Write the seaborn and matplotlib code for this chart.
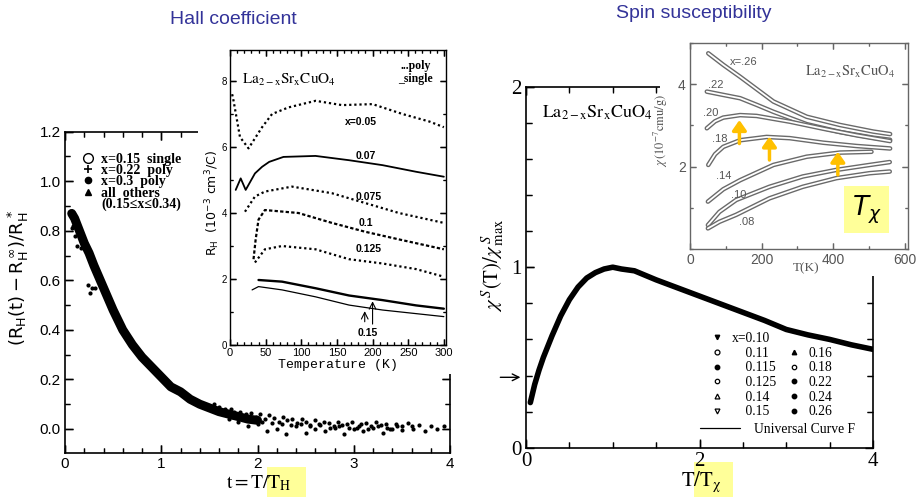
import matplotlib
matplotlib.use("Agg")
import matplotlib.pyplot as plt
import seaborn as sns
from matplotlib.lines import Line2D
from matplotlib.patches import Rectangle
from matplotlib.ticker import MultipleLocator, FixedLocator

# ---------------- data: Hall coefficient (main, left) ----------------
hall_t = [0.07, 0.10, 0.15, 0.20, 0.25, 0.30, 0.40, 0.50, 0.60, 0.70, 0.80, 0.90,
          1.00, 1.10, 1.20, 1.30, 1.40, 1.50, 1.60, 1.70, 1.80, 1.90, 2.00]
hall_mid = [0.87, 0.85, 0.80, 0.75, 0.71, 0.66, 0.57, 0.48, 0.40, 0.34, 0.29, 0.25,
            0.21, 0.17, 0.15, 0.12, 0.10, 0.085, 0.07, 0.06, 0.05, 0.04, 0.035]
hall_out_t = [0.07, 0.08, 0.10, 0.12, 0.17, 0.24, 0.26, 0.28, 0.31]
hall_out_y = [0.81, 0.82, 0.78, 0.74, 0.73, 0.58, 0.55, 0.57, 0.57]
tail_t = [1.55, 1.60, 1.66, 1.72, 1.76, 1.82, 1.88, 1.93, 1.98, 2.03, 2.08, 2.12, 2.17, 2.22,
          2.27, 2.31, 2.36, 2.41, 2.46, 2.50, 2.55, 2.60, 2.64, 2.69, 2.74, 2.79, 2.84, 2.88,
          2.93, 2.98, 3.03, 3.08, 3.13, 3.18, 3.23, 3.28, 3.33, 3.38, 3.44, 3.50, 3.56, 3.62,
          3.68, 3.74, 3.80, 3.87, 3.94]
tail_y = [0.10, 0.09, 0.08, 0.08, 0.07, 0.07, 0.06, 0.065, 0.05, 0.06, 0.04, 0.055, 0.045, 0.03,
          0.05, 0.035, 0.04, 0.025, 0.04, 0.03, 0.015, 0.035, 0.02, 0.03, 0.025, 0.01, 0.03, 0.015,
          0.02, 0.03, 0.005, 0.02, 0.025, 0.01, 0.03, 0.015, 0.02, 0.0, 0.02, 0.01, 0.025, 0.0,
          0.015, -0.01, 0.01, 0.0, 0.01]
tail2_t = [1.70, 1.80, 1.90, 2.00, 2.10, 2.20, 2.30, 2.40, 2.50, 2.60, 2.70, 2.80, 2.90, 3.00,
           3.10, 3.20, 3.30, 3.40, 3.50, 3.60]
tail2_y = [0.04, 0.03, 0.01, 0.02, -0.01, 0.00, -0.02, 0.01, -0.015, 0.0, -0.01, 0.005, -0.02,
           0.0, -0.01, 0.005, -0.015, 0.0, -0.005, 0.01]
tail3_t = [1.75, 1.85, 1.95, 2.05, 2.15, 2.25, 2.35, 2.45, 2.55, 2.65, 2.75, 2.85, 2.95, 3.05,
           3.15, 3.25, 3.35, 3.45]
tail3_y = [0.05, 0.045, 0.035, 0.03, 0.025, 0.02, 0.015, 0.02, 0.01, 0.015, 0.005, 0.01, 0.005,
           0.01, 0.0, 0.01, 0.005, 0.01]

# ---------------- data: R_H vs temperature (inset, left) ----------------
rh05_T = [3, 5, 14, 26, 45, 59, 82, 120, 157, 200, 242, 280, 300]
rh05_R = [7.6, 7.4, 6.3, 5.96, 6.6, 7.0, 7.2, 7.4, 7.27, 7.3, 7.0, 6.77, 6.6]
rh07_T = [8, 15, 22, 35, 45, 55, 75, 120, 167, 214, 261, 300]
rh07_R = [4.7, 5.05, 4.7, 5.2, 5.4, 5.55, 5.7, 5.73, 5.6, 5.45, 5.25, 5.1]
rh075_T = [21, 35, 49, 87, 143, 190, 237, 300]
rh075_R = [4.04, 4.5, 4.65, 4.8, 4.6, 4.3, 4.0, 3.7]
rh10_T = [33, 36, 40, 49, 96, 143, 190, 237, 300]
rh10_R = [2.6, 3.2, 3.8, 4.09, 4.0, 3.7, 3.43, 3.2, 2.9]
rh125_T = [35, 49, 73, 120, 167, 214, 261, 300]
rh125_R = [2.5, 2.9, 3.0, 2.9, 2.6, 2.47, 2.3, 2.07]
rh15p_T = [40, 73, 120, 167, 214, 261, 300]
rh15p_R = [1.97, 1.92, 1.72, 1.5, 1.36, 1.2, 1.1]
rh15s_T = [31, 40, 73, 120, 167, 214, 300]
rh15s_R = [1.67, 1.77, 1.67, 1.46, 1.21, 1.06, 0.86]
rh_labels = ["x=0.05", "0.07", "0.075", "0.1", "0.125", "0.15"]
rh_label_T = [184, 191, 195, 190, 195, 193]
rh_label_R = [6.77, 5.73, 4.5, 3.69, 2.9, 0.35]

# ---------------- data: spin susceptibility (main, right) ----------------
chi_x = [0.05, 0.10, 0.15, 0.20, 0.30, 0.40, 0.50, 0.60, 0.70, 0.80, 0.90, 1.00, 1.10,
         1.25, 1.50, 1.75, 2.00, 2.25, 2.50, 2.75, 3.00, 3.25, 3.50, 3.75, 4.00]
chi_y = [0.25, 0.35, 0.43, 0.50, 0.62, 0.73, 0.82, 0.89, 0.94, 0.97, 0.99, 1.00, 0.99,
         0.98, 0.93, 0.885, 0.84, 0.795, 0.75, 0.705, 0.655, 0.625, 0.60, 0.57, 0.545]
chi_leg_col1 = ["x=0.10", "0.11", "0.115", "0.125", "0.14", "0.15"]
chi_leg_col2 = ["", "0.16", "0.18", "0.22", "0.24", "0.26"]

# ---------------- data: chi vs T (inset, right) ----------------
s26_T = [51, 93, 140, 233, 326, 419, 512, 559]
s26_c = [4.75, 4.47, 4.18, 3.58, 3.21, 3.01, 2.85, 2.79]
s22_T = [47, 93, 140, 186, 233, 326, 419, 512, 559]
s22_c = [3.82, 3.74, 3.66, 3.50, 3.33, 3.03, 2.84, 2.70, 2.65]
s20_T = [47, 70, 93, 140, 186, 279, 372, 465, 559]
s20_c = [2.93, 3.10, 3.19, 3.25, 3.23, 3.09, 2.92, 2.76, 2.62]
s18_T = [51, 70, 93, 140, 214, 279, 372, 465, 559]
s18_c = [2.04, 2.30, 2.48, 2.64, 2.72, 2.69, 2.58, 2.50, 2.44]
s14_T = [50, 93, 140, 233, 326, 419, 507]
s14_c = [1.15, 1.45, 1.67, 2.04, 2.24, 2.34, 2.36]
s10_T = [50, 82, 129, 222, 315, 409, 502, 558]
s10_c = [0.58, 0.90, 1.19, 1.51, 1.76, 1.92, 2.04, 2.11]
s08_T = [50, 82, 129, 222, 315, 409, 502, 558]
s08_c = [0.50, 0.66, 0.83, 1.23, 1.51, 1.72, 1.84, 1.88]
s_labels = ["x=.26", ".22", ".20", ".18", ".14", ".10", ".08"]
s_label_T = [150, 72, 58, 84, 93, 135, 157]
s_label_c = [4.55, 3.98, 3.29, 2.68, 1.76, 1.31, 0.66]
tchi_T = [138, 222, 413]
tchi_lo = [2.56, 2.16, 1.80]
tchi_hi = [3.13, 2.73, 2.36]

# ---------------- style ----------------
sns.set_theme(style="ticks", rc={"axes.edgecolor": "black", "text.color": "black",
                                 "axes.labelcolor": "black", "xtick.color": "black",
                                 "ytick.color": "black"})
plt.rcParams.update({
    "font.family": ["Liberation Sans", "DejaVu Sans"],
    "mathtext.fontset": "stix",
    "xtick.direction": "in", "ytick.direction": "in",
    "xtick.top": True, "ytick.right": True, "xtick.bottom": True, "ytick.left": True,
    "xtick.major.size": 6, "ytick.major.size": 6,
    "xtick.minor.size": 3.5, "ytick.minor.size": 3.5,
    "xtick.major.width": 1.0, "ytick.major.width": 1.0,
    "xtick.minor.width": 0.9, "ytick.minor.width": 0.9,
    "axes.linewidth": 1.2,
})
SERIF = ["Liberation Serif", "DejaVu Serif"]
MONO = ["Liberation Mono", "DejaVu Sans Mono"]
SANS = ["Liberation Sans", "DejaVu Sans"]
TITLE_C = "#333399"

W, H = 917, 497
fig = plt.figure(figsize=(W / 100, H / 100), dpi=100)
fig.patch.set_facecolor("white")


def box(x0, y0, x1, y1):
    return [x0 / W, 1 - y1 / H, (x1 - x0) / W, (y1 - y0) / H]


def fig_rect(x0, y0, x1, y1, color, z):
    fig.add_artist(Rectangle((x0 / W, 1 - y1 / H), (x1 - x0) / W, (y1 - y0) / H,
                             transform=fig.transFigure, facecolor=color,
                             edgecolor="none", zorder=z))


def label_font(ax, family, size, color="black"):
    plt.setp(ax.get_xticklabels() + ax.get_yticklabels(), family=family, fontsize=size,
             color=color)


def frame_ticks(ax, lmaj, lmin, color="black", wmaj=1.0, wmin=0.9):
    """Inward tick marks on all four sides, placed at the axis locator positions."""
    pos = ax.get_position()
    wpx, hpx = pos.width * W, pos.height * H
    x0, x1 = sorted(ax.get_xlim())
    y0, y1 = sorted(ax.get_ylim())
    for locs, L, lw in [(ax.xaxis.get_majorticklocs(), lmaj, wmaj),
                        (ax.xaxis.get_minorticklocs(), lmin, wmin)]:
        locs = [v for v in locs if x0 - 1e-9 <= v <= x1 + 1e-9]
        f = L * 100 / 72 / hpx
        tr = ax.get_xaxis_transform()
        ax.vlines(locs, 0, f, transform=tr, colors=color, lw=lw, zorder=2.6)
        ax.vlines(locs, 1 - f, 1, transform=tr, colors=color, lw=lw, zorder=2.6)
    for locs, L, lw in [(ax.yaxis.get_majorticklocs(), lmaj, wmaj),
                        (ax.yaxis.get_minorticklocs(), lmin, wmin)]:
        locs = [v for v in locs if y0 - 1e-9 <= v <= y1 + 1e-9]
        f = L * 100 / 72 / wpx
        tr = ax.get_yaxis_transform()
        ax.hlines(locs, 0, f, transform=tr, colors=color, lw=lw, zorder=2.6)
        ax.hlines(locs, 1 - f, 1, transform=tr, colors=color, lw=lw, zorder=2.6)
    ax.set_xlim(x0, x1)
    ax.set_ylim(y0, y1)


# ================= LEFT MAIN =================
axL = fig.add_axes(box(65, 131.7, 450, 453))
sns.lineplot(x=hall_t, y=hall_mid, ax=axL, color="black", lw=6.5, solid_capstyle="round")
for tx, ty in [(hall_out_t, hall_out_y), (tail_t, tail_y), (tail2_t, tail2_y), (tail3_t, tail3_y)]:
    sns.scatterplot(x=tx, y=ty, ax=axL, color="black", s=9, linewidth=0)
axL.set_xlim(0, 4)
axL.set_ylim(-0.097, 1.2)
axL.xaxis.set_major_locator(MultipleLocator(1))
axL.xaxis.set_minor_locator(MultipleLocator(0.2))
axL.yaxis.set_major_locator(MultipleLocator(0.2))
axL.yaxis.set_minor_locator(MultipleLocator(0.1))
axL.tick_params(which="major", pad=3)
label_font(axL, SANS, 11)
frame_ticks(axL, 6, 3.5)
hl_handles = [Line2D([], [], ls="none", marker="o", mfc="white", mec="black", ms=7, mew=1),
              Line2D([], [], ls="none", marker="+", color="black", ms=6, mew=1.2),
              Line2D([], [], ls="none", marker="o", color="black", ms=4.5),
              Line2D([], [], ls="none", marker="^", color="black", ms=5),
              Line2D([], [], ls="none")]
hl_labels = ["x=0.15  single", "x=0.22  poly", "x=0.3  poly", "all  others", "(0.15\u2264x\u22640.34)"]
axL.legend(hl_handles, hl_labels, loc="upper left", bbox_to_anchor=(0.045, 0.935), frameon=False,
           prop={"family": SERIF, "weight": "bold", "size": 10}, handlelength=0.8,
           handletextpad=0.55, labelspacing=-0.12, borderpad=0, borderaxespad=0)
axL.set_xlabel(r"$\mathrm{t=T/T_H}$", fontsize=14)
axL.xaxis.set_label_coords(0.504, -0.062)
axL.set_ylabel(r"$\mathrm{(R_H(t)-R_H^{\,\infty})/R_H^{\,*}}$", fontsize=13,
               math_fontfamily="dejavusans")
axL.yaxis.set_label_coords(-0.088, 0.545)
fig_rect(266.7, 466.7, 305.7, 497, "#FFFF99", -1)

# white background for left inset
fig_rect(198, 42, 460, 374, "white", 2)

# ================= LEFT INSET =================
axLi = fig.add_axes(box(230, 50, 446, 345))
axLi.set_zorder(3)
axLi.set_facecolor("white")
dotted = (0, (1, 1.3))
sns.lineplot(x=rh05_T, y=rh05_R, ax=axLi, color="black", lw=1.6, ls=dotted)
sns.lineplot(x=rh07_T, y=rh07_R, ax=axLi, color="black", lw=1.3)
sns.lineplot(x=rh075_T, y=rh075_R, ax=axLi, color="black", lw=1.6, ls=dotted)
sns.lineplot(x=rh10_T, y=rh10_R, ax=axLi, color="black", lw=1.6, ls=(0, (1.5, 1)))
sns.lineplot(x=rh125_T, y=rh125_R, ax=axLi, color="black", lw=1.6, ls=dotted)
sns.lineplot(x=rh15p_T, y=rh15p_R, ax=axLi, color="black", lw=1.7)
sns.lineplot(x=rh15s_T, y=rh15s_R, ax=axLi, color="black", lw=0.9)
axLi.set_xlim(0, 303)
axLi.set_ylim(0, 8.94)
axLi.xaxis.set_major_locator(MultipleLocator(50))
axLi.xaxis.set_minor_locator(MultipleLocator(10))
axLi.yaxis.set_major_locator(MultipleLocator(2))
axLi.yaxis.set_minor_locator(MultipleLocator(1))
axLi.tick_params(which="major", length=4, pad=2)
axLi.tick_params(which="minor", length=2)
for s in axLi.spines.values():
    s.set_linewidth(1.0)
plt.setp(axLi.get_xticklabels(), family=SANS, fontsize=8)
plt.setp(axLi.get_yticklabels(), family=SANS, fontsize=7)
frame_ticks(axLi, 4, 2, wmaj=0.9, wmin=0.8)
for lab, tx, ty in zip(rh_labels, rh_label_T, rh_label_R):
    axLi.text(tx, ty, lab, ha="center", va="center", fontsize=7.5, fontweight="bold", family=SANS)
axLi.annotate("", xy=(189, 1.11), xytext=(189, 0.62),
              arrowprops=dict(arrowstyle="->", lw=0.8, color="black"))
axLi.annotate("", xy=(200, 1.41), xytext=(200, 0.55),
              arrowprops=dict(arrowstyle="->", lw=0.8, color="black"))
axLi.text(0.273, 0.898, r"$\mathrm{La_{2-x}Sr_xCuO_4}$", transform=axLi.transAxes,
          ha="center", va="center", fontsize=11)
axLi.text(0.86, 0.946, "...poly", transform=axLi.transAxes, ha="center", va="center",
          fontsize=8.5, fontweight="bold", family=SERIF)
axLi.text(0.86, 0.902, "_single", transform=axLi.transAxes, ha="center", va="center",
          fontsize=8.5, fontweight="bold", family=SERIF)
axLi.set_xlabel("Temperature (K)", fontsize=9.5, family=MONO, labelpad=1)
axLi.set_ylabel(r"$\mathrm{R_H\ \ (10^{-3}\ cm^3/C)}$", fontsize=9, labelpad=1,
                math_fontfamily="dejavusans")
axLi.yaxis.set_label_coords(-0.035, 0.48)

# ================= RIGHT MAIN =================
axR = fig.add_axes(box(526, 86.7, 873, 447.7))
sns.lineplot(x=chi_x, y=chi_y, ax=axR, color="black", lw=4.0, solid_capstyle="round")
axR.set_xlim(0, 4)
axR.set_ylim(0, 2)
axR.xaxis.set_major_locator(MultipleLocator(2))
axR.xaxis.set_minor_locator(MultipleLocator(0.5))
axR.yaxis.set_major_locator(MultipleLocator(1))
axR.yaxis.set_minor_locator(MultipleLocator(0.2))
axR.tick_params(which="major", length=6, pad=3)
axR.tick_params(which="minor", length=4)
label_font(axR, SERIF, 15)
frame_ticks(axR, 6, 4)
mk = dict(ls="none", color="black", ms=3.2)
col1_h = [Line2D([], [], marker="v", **mk),
          Line2D([], [], marker="o", mfc="white", mec="black", mew=0.9, ls="none", ms=3.5),
          Line2D([], [], marker="o", **mk),
          Line2D([], [], marker="o", mfc="white", mec="black", mew=0.9, ls="none", ms=3.2),
          Line2D([], [], marker="^", mfc="white", mec="black", mew=0.9, ls="none", ms=3.5),
          Line2D([], [], marker="v", mfc="white", mec="black", mew=0.9, ls="none", ms=3.5)]
col2_h = [Line2D([], [], ls="none"),
          Line2D([], [], marker="^", **mk),
          Line2D([], [], marker="o", mfc="white", mec="black", mew=0.9, ls="none", ms=3.2),
          Line2D([], [], marker="o", **mk),
          Line2D([], [], marker="o", **mk),
          Line2D([], [], marker="o", **mk)]
col1_l = [chi_leg_col1[0]] + ["    " + s for s in chi_leg_col1[1:]]
leg1 = axR.legend(col1_h + col2_h, col1_l + chi_leg_col2, ncol=2, loc="upper left",
                  bbox_to_anchor=(0.535, 0.32), frameon=False,
                  prop={"family": SERIF, "size": 9.8}, handlelength=0.8, handletextpad=0.7,
                  labelspacing=0.12, columnspacing=0.9, borderpad=0, borderaxespad=0)
axR.add_artist(leg1)
axR.legend([Line2D([], [], color="black", lw=0.9)], ["Universal Curve F"], loc="upper left",
           bbox_to_anchor=(0.50, 0.068), frameon=False, prop={"family": SERIF, "size": 9.8},
           handlelength=3.0, handletextpad=1.0, borderpad=0, borderaxespad=0)
axR.text(0.205, 0.927, r"$\mathrm{La_{2-x}Sr_xCuO_4}$", transform=axR.transAxes,
         ha="center", va="center", fontsize=13)
axR.annotate("", xy=(-0.008, 0.39), xycoords=("axes fraction", "data"),
             xytext=(-0.082, 0.39), textcoords=("axes fraction", "data"),
             arrowprops=dict(arrowstyle="->", lw=1.0, color="black"), annotation_clip=False)
axR.set_xlabel(r"$\mathrm{T/T_{\chi}}$", fontsize=15)
axR.xaxis.set_label_coords(0.504, -0.06)
axR.set_ylabel(r"$\chi^{\,S}\mathrm{(T)}/\chi^{\,S}_{\,\mathrm{max}}$", fontsize=15)
axR.yaxis.set_label_coords(-0.055, 0.506)
fig_rect(694, 462, 733, 497, "#FFFF99", -1)

# white background for right inset
fig_rect(660, 28, 917, 276, "white", 2)

# ================= RIGHT INSET =================
axRi = fig.add_axes(box(690, 43, 908, 249))
axRi.set_zorder(3)
axRi.set_facecolor("white")
for sT, sc in [(s26_T, s26_c), (s22_T, s22_c), (s20_T, s20_c), (s18_T, s18_c),
               (s14_T, s14_c), (s10_T, s10_c), (s08_T, s08_c)]:
    sns.lineplot(x=sT, y=sc, ax=axRi, color="#6a6a6a", lw=3.3, solid_capstyle="round")
    sns.lineplot(x=sT, y=sc, ax=axRi, color="white", lw=1.3, solid_capstyle="round")
axRi.set_xlim(0, 609)
axRi.set_ylim(0, 5)
axRi.xaxis.set_major_locator(FixedLocator([0, 200, 400, 600]))
axRi.xaxis.set_minor_locator(MultipleLocator(100))
axRi.yaxis.set_major_locator(FixedLocator([2, 4]))
axRi.yaxis.set_minor_locator(MultipleLocator(1))
axRi.tick_params(which="both", color="#666666")
axRi.tick_params(which="major", length=4, pad=3)
axRi.tick_params(which="minor", length=2.5)
for s in axRi.spines.values():
    s.set_color("#666666")
    s.set_linewidth(1.0)
label_font(axRi, SANS, 10, "#555555")
frame_ticks(axRi, 4, 2.5, color="#666666", wmaj=0.8, wmin=0.8)
for lab, tx, ty in zip(s_labels, s_label_T, s_label_c):
    axRi.text(tx, ty, lab, ha="center", va="center", fontsize=8, color="#555555")
for tx, lo, hi in zip(tchi_T, tchi_lo, tchi_hi):
    axRi.annotate("", xy=(tx, hi), xytext=(tx, lo),
                  arrowprops=dict(arrowstyle="-|>,head_width=0.35,head_length=0.5",
                                  lw=2.5, color="#FFC000", shrinkA=0, shrinkB=0))
axRi.text(0.734, 0.86, r"$\mathrm{La_{2-x}Sr_xCuO_4}$", transform=axRi.transAxes,
          ha="center", va="center", fontsize=10.5, color="#555555")
axRi.text(0.81, 0.19, r"$T_{\chi}$", transform=axRi.transAxes, ha="center", va="center",
          fontsize=19, math_fontfamily="dejavusans",
          bbox=dict(boxstyle="square,pad=0.28", fc="#FFFF99", ec="none"))
axRi.set_xlabel("T(K)", fontsize=9.5, color="#555555", family=SERIF)
axRi.xaxis.set_label_coords(0.532, -0.065)
axRi.set_ylabel(r"$\chi\,\mathrm{(10^{-7}cmu/g)}$", fontsize=9, color="#555555")
axRi.yaxis.set_label_coords(-0.09, 0.578)

# ================= titles =================
fig.text(233 / W, 1 - 20 / H, "Hall coefficient", ha="center", va="center",
         fontsize=14, color=TITLE_C, family=SANS)
fig.text(694 / W, 1 - 14 / H, "Spin susceptibility", ha="center", va="center",
         fontsize=14, color=TITLE_C, family=SANS)

fig.savefig("out.png", dpi=100, facecolor="white")
